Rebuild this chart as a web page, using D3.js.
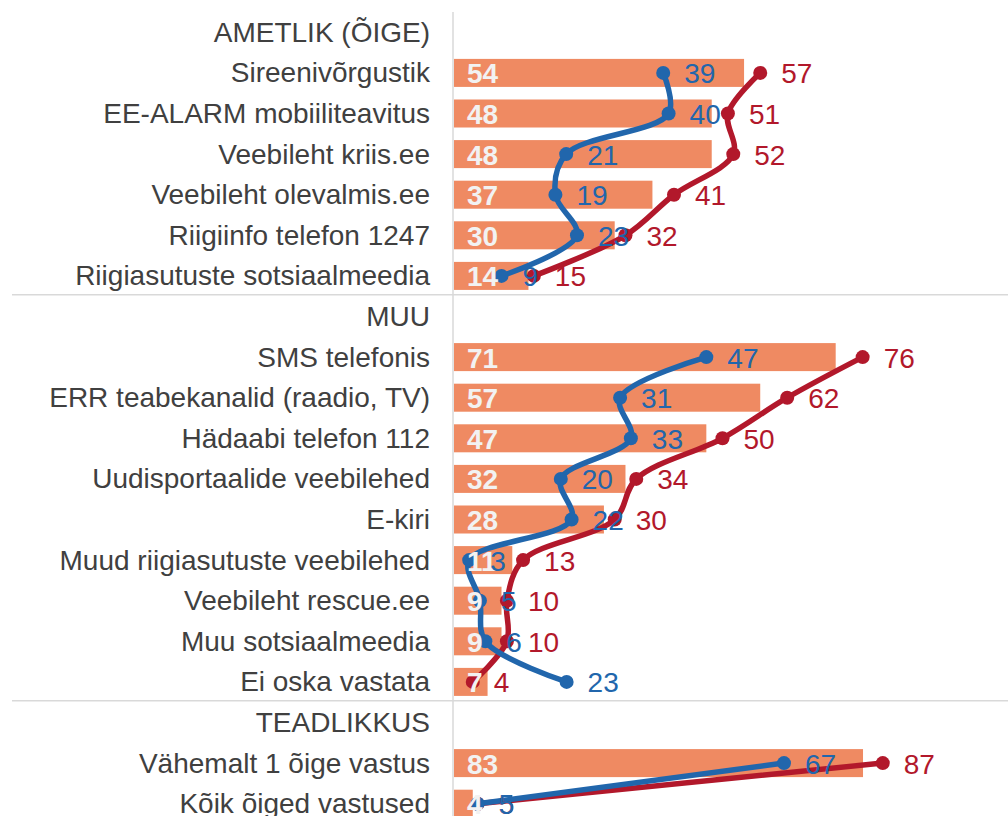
<!DOCTYPE html>
<html>
<head>
<meta charset="utf-8">
<script src="https://cdn.jsdelivr.net/npm/d3@7"></script>
<style>
  body { margin: 0; background: #fff; }
  svg text { font-family: "Liberation Sans", Arial, sans-serif; }
</style>
</head>
<body>
<div id="chart"></div>
<script>
// rows of the chart (headers have no values)
var categories = [
    "AMETLIK (ÕIGE)",
    "Sireenivõrgustik",
    "EE-ALARM mobiiliteavitus",
    "Veebileht kriis.ee",
    "Veebileht olevalmis.ee",
    "Riigiinfo telefon 1247",
    "Riigiasutuste sotsiaalmeedia",
    "MUU",
    "SMS telefonis",
    "ERR teabekanalid (raadio, TV)",
    "Hädaabi telefon 112",
    "Uudisportaalide veebilehed",
    "E-kiri",
    "Muud riigiasutuste veebilehed",
    "Veebileht rescue.ee",
    "Muu sotsiaalmeedia",
    "Ei oska vastata",
    "TEADLIKKUS",
    "Vähemalt 1 õige vastus",
    "Kõik õiged vastused"
];
var headers = ["AMETLIK (ÕIGE)", "MUU", "TEADLIKKUS"];

// orange bars
var barValues = [null, 54, 48, 48, 37, 30, 14, null, 71, 57, 47, 32, 28, 11, 9, 9, 7, null, 83, 4];
// blue line
var blueValues = [null, 39, 40, 21, 19, 23, 9, null, 47, 31, 33, 20, 22, 3, 5, 6, 23, null, 67, 5];
// red line
var redValues = [null, 57, 51, 52, 41, 32, 15, null, 76, 62, 50, 34, 30, 13, 10, 10, 4, null, 87, 5];

// these rows are drawn on a slightly compressed scale in the original
var altScaleRows = ["Ei oska vastata", "Vähemalt 1 õige vastus", "Kõik õiged vastused"];

var W = 1008, H = 816;
var axisX = 453;
var fontSize = "28px";

var svg = d3.select("#chart").append("svg")
    .attr("width", W)
    .attr("height", H);

var y = d3.scaleBand()
    .domain(d3.range(categories.length))
    .range([12, 12 + categories.length * 40.6])
    .paddingInner(0.31)
    .paddingOuter(0.155);

var xMain = d3.scaleLinear().domain([0, 100]).range([axisX, axisX + 539]);
var xAlt = d3.scaleLinear().domain([0, 100]).range([axisX, axisX + 494]);

function xFor(i, v) {
    return altScaleRows.indexOf(categories[i]) >= 0 ? xAlt(v) : xMain(v);
}
function yc(i) { return y(i) + y.bandwidth() / 2; }

var colBar = "#ef8a62", colBlue = "#2166ac", colRed = "#b2182b";

// separator lines above the section headers
var sepRows = headers.slice(1).map(function (h) { return categories.indexOf(h); });
svg.selectAll(".sep")
    .data(sepRows)
    .enter().append("line")
    .attr("class", "sep")
    .attr("x1", 12).attr("x2", W)
    .attr("y1", function (i) { return y(i) - y.step() * y.paddingInner() / 2 - 1.5; })
    .attr("y2", function (i) { return y(i) - y.step() * y.paddingInner() / 2 - 1.5; })
    .attr("stroke", "#d9d9d9")
    .attr("stroke-width", 1.5);

// vertical axis line
svg.append("line")
    .attr("x1", axisX).attr("x2", axisX)
    .attr("y1", 12).attr("y2", H)
    .attr("stroke", "#d9d9d9")
    .attr("stroke-width", 1.5);

// category labels
svg.selectAll(".cat")
    .data(categories)
    .enter().append("text")
    .attr("class", "cat")
    .attr("x", 430)
    .attr("y", function (d, i) { return yc(i); })
    .attr("text-anchor", "end")
    .attr("dominant-baseline", "central")
    .attr("fill", "#404040")
    .style("font-size", fontSize)
    .text(function (d) { return d; });

var idx = d3.range(categories.length);

// bars
svg.selectAll(".bar")
    .data(idx.filter(function (i) { return barValues[i] != null; }))
    .enter().append("rect")
    .attr("class", "bar")
    .attr("x", axisX + 1)
    .attr("y", function (i) { return y(i); })
    .attr("width", function (i) { return xFor(i, barValues[i]) - axisX - 1; })
    .attr("height", y.bandwidth())
    .attr("fill", colBar);

// lines, broken at section headers
function drawSeries(values, color) {
    var line = d3.line()
        .defined(function (i) { return values[i] != null; })
        .x(function (i) { return xFor(i, values[i]); })
        .y(function (i) { return yc(i); })
        .curve(d3.curveCatmullRom.alpha(0.5));

    svg.append("path")
        .datum(idx)
        .attr("d", line)
        .attr("fill", "none")
        .attr("stroke", color)
        .attr("stroke-width", 5.5)
        .attr("stroke-linejoin", "round")
        .attr("stroke-linecap", "round");

    svg.selectAll(null)
        .data(idx.filter(function (i) { return values[i] != null; }))
        .enter().append("circle")
        .attr("cx", function (i) { return xFor(i, values[i]); })
        .attr("cy", function (i) { return yc(i); })
        .attr("r", 7)
        .attr("fill", color);
}
drawSeries(redValues, colRed);
drawSeries(blueValues, colBlue);

// labels on top of everything
svg.selectAll(".barlab")
    .data(idx.filter(function (i) { return barValues[i] != null; }))
    .enter().append("text")
    .attr("class", "barlab")
    .attr("x", axisX + 14)
    .attr("y", function (i) { return yc(i) + 1; })
    .attr("dominant-baseline", "central")
    .attr("fill", "#f2f2f2")
    .style("font-size", fontSize)
    .style("font-weight", "bold")
    .text(function (i) { return barValues[i]; });

function drawLabels(values, color) {
    svg.selectAll(null)
        .data(idx.filter(function (i) { return values[i] != null; }))
        .enter().append("text")
        .attr("x", function (i) { return xFor(i, values[i]) + 21; })
        .attr("y", function (i) { return yc(i) + 1; })
        .attr("dominant-baseline", "central")
        .attr("fill", color)
        .style("font-size", fontSize)
        .text(function (i) { return values[i]; });
}
drawLabels(redValues, colRed);
drawLabels(blueValues, colBlue);
</script>
</body>
</html>
